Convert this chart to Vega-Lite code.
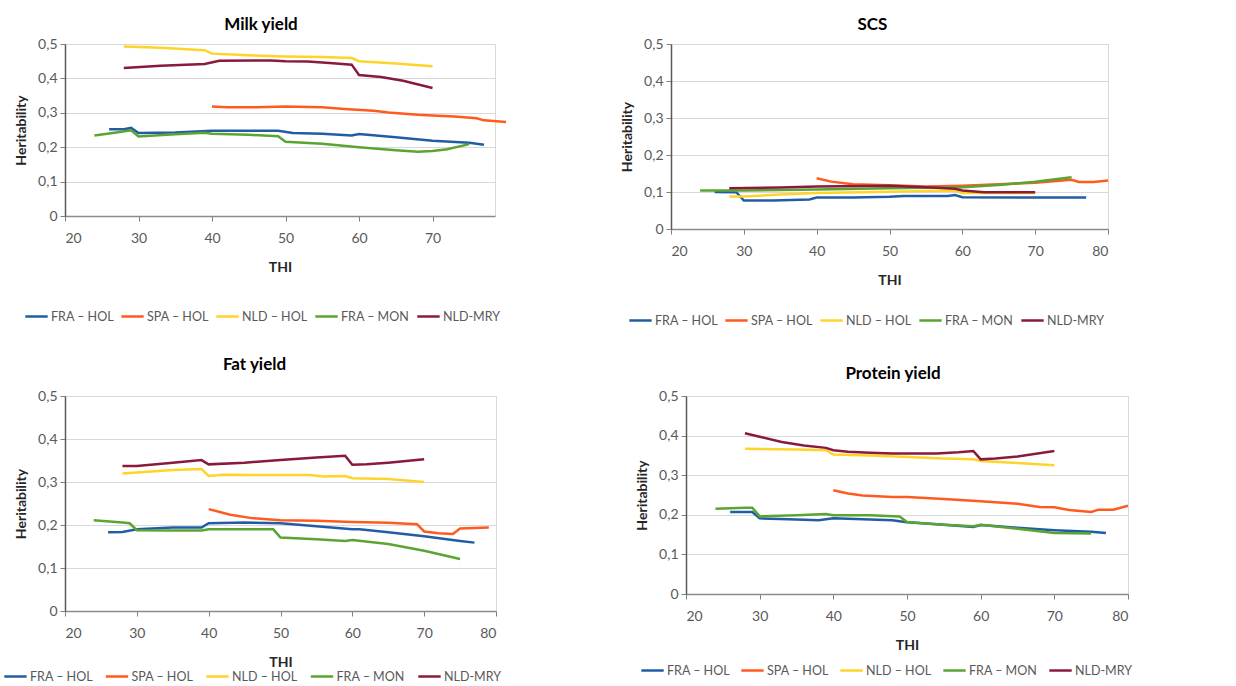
{
  "$schema": "https://vega.github.io/schema/vega-lite/v6.json",
  "background": "white",
  "padding": {"left": 2, "top": 15, "right": 5, "bottom": 0},
  "config": {
    "font": "Lato",
    "view": {"stroke": "#d9d9d9", "strokeWidth": 1},
    "axis": {
      "labelFont": "Lato", "labelFontSize": 14, "labelColor": "#595959",
      "titleFont": "Lato", "titleFontSize": 14, "titleFontWeight": "bold", "titleColor": "#262626",
      "gridColor": "#d9d9d9", "gridWidth": 1,
      "tickColor": "#7f7f7f", "tickSize": 5, "domainWidth": 1.5
    },
    "axisX": {"grid": false, "domainColor": "#8c8c8c", "labelPadding": 10, "titlePadding": 15},
    "axisY": {"domainColor": "#595959", "labelPadding": 3, "titlePadding": 9},
    "legend": {
      "orient": "none", "direction": "horizontal", "title": null,
      "symbolType": "stroke", "symbolSize": 500, "symbolStrokeWidth": 3,
      "labelFont": "Lato", "labelFontSize": 12.5, "labelColor": "#595959",
      "labelOffset": 2, "columnPadding": 2, "symbolOffset": 0
    },
    "title": {"font": "Lato", "fontSize": 17, "fontWeight": "bold", "color": "#000000", "frame": "group", "anchor": "middle"},
    "line": {"strokeWidth": 2.5, "clip": true}
  },
  "datasets": {
    "milk": [
      {"THI": 26, "series": "FRA – HOL", "h": 0.252}, {"THI": 28, "series": "FRA – HOL", "h": 0.252},
      {"THI": 29, "series": "FRA – HOL", "h": 0.256}, {"THI": 30, "series": "FRA – HOL", "h": 0.241},
      {"THI": 35, "series": "FRA – HOL", "h": 0.243}, {"THI": 40, "series": "FRA – HOL", "h": 0.248},
      {"THI": 49, "series": "FRA – HOL", "h": 0.248}, {"THI": 51, "series": "FRA – HOL", "h": 0.241},
      {"THI": 55, "series": "FRA – HOL", "h": 0.239}, {"THI": 59, "series": "FRA – HOL", "h": 0.234},
      {"THI": 60, "series": "FRA – HOL", "h": 0.238}, {"THI": 65, "series": "FRA – HOL", "h": 0.229},
      {"THI": 70, "series": "FRA – HOL", "h": 0.219}, {"THI": 75, "series": "FRA – HOL", "h": 0.213},
      {"THI": 77, "series": "FRA – HOL", "h": 0.207},
      {"THI": 40, "series": "SPA – HOL", "h": 0.318}, {"THI": 42, "series": "SPA – HOL", "h": 0.316},
      {"THI": 46, "series": "SPA – HOL", "h": 0.316}, {"THI": 50, "series": "SPA – HOL", "h": 0.318},
      {"THI": 55, "series": "SPA – HOL", "h": 0.316}, {"THI": 58, "series": "SPA – HOL", "h": 0.311},
      {"THI": 62, "series": "SPA – HOL", "h": 0.306}, {"THI": 64, "series": "SPA – HOL", "h": 0.301},
      {"THI": 68, "series": "SPA – HOL", "h": 0.294}, {"THI": 70, "series": "SPA – HOL", "h": 0.292},
      {"THI": 73, "series": "SPA – HOL", "h": 0.289}, {"THI": 76, "series": "SPA – HOL", "h": 0.284},
      {"THI": 77, "series": "SPA – HOL", "h": 0.278}, {"THI": 80, "series": "SPA – HOL", "h": 0.273},
      {"THI": 28, "series": "NLD – HOL", "h": 0.493}, {"THI": 33, "series": "NLD – HOL", "h": 0.489},
      {"THI": 39, "series": "NLD – HOL", "h": 0.482}, {"THI": 40, "series": "NLD – HOL", "h": 0.472},
      {"THI": 45, "series": "NLD – HOL", "h": 0.467}, {"THI": 50, "series": "NLD – HOL", "h": 0.464},
      {"THI": 55, "series": "NLD – HOL", "h": 0.462}, {"THI": 59, "series": "NLD – HOL", "h": 0.459},
      {"THI": 60, "series": "NLD – HOL", "h": 0.45}, {"THI": 65, "series": "NLD – HOL", "h": 0.443},
      {"THI": 70, "series": "NLD – HOL", "h": 0.435},
      {"THI": 24, "series": "FRA – MON", "h": 0.234}, {"THI": 27, "series": "FRA – MON", "h": 0.243},
      {"THI": 29, "series": "FRA – MON", "h": 0.249}, {"THI": 30, "series": "FRA – MON", "h": 0.231},
      {"THI": 35, "series": "FRA – MON", "h": 0.238}, {"THI": 39, "series": "FRA – MON", "h": 0.242},
      {"THI": 40, "series": "FRA – MON", "h": 0.239}, {"THI": 45, "series": "FRA – MON", "h": 0.236},
      {"THI": 49, "series": "FRA – MON", "h": 0.232}, {"THI": 50, "series": "FRA – MON", "h": 0.216},
      {"THI": 55, "series": "FRA – MON", "h": 0.21}, {"THI": 60, "series": "FRA – MON", "h": 0.2},
      {"THI": 65, "series": "FRA – MON", "h": 0.191}, {"THI": 68, "series": "FRA – MON", "h": 0.187},
      {"THI": 70, "series": "FRA – MON", "h": 0.189}, {"THI": 72, "series": "FRA – MON", "h": 0.194},
      {"THI": 75, "series": "FRA – MON", "h": 0.209},
      {"THI": 28, "series": "NLD-MRY", "h": 0.43}, {"THI": 33, "series": "NLD-MRY", "h": 0.437},
      {"THI": 39, "series": "NLD-MRY", "h": 0.442}, {"THI": 41, "series": "NLD-MRY", "h": 0.451},
      {"THI": 48, "series": "NLD-MRY", "h": 0.452}, {"THI": 50, "series": "NLD-MRY", "h": 0.45},
      {"THI": 53, "series": "NLD-MRY", "h": 0.449}, {"THI": 56, "series": "NLD-MRY", "h": 0.445},
      {"THI": 59, "series": "NLD-MRY", "h": 0.44}, {"THI": 60, "series": "NLD-MRY", "h": 0.41},
      {"THI": 63, "series": "NLD-MRY", "h": 0.404}, {"THI": 66, "series": "NLD-MRY", "h": 0.393},
      {"THI": 70, "series": "NLD-MRY", "h": 0.372}
    ],
    "scs": [
      {"THI": 26, "series": "FRA – HOL", "h": 0.1}, {"THI": 29, "series": "FRA – HOL", "h": 0.099},
      {"THI": 30, "series": "FRA – HOL", "h": 0.077}, {"THI": 34, "series": "FRA – HOL", "h": 0.077},
      {"THI": 39, "series": "FRA – HOL", "h": 0.08}, {"THI": 40, "series": "FRA – HOL", "h": 0.085},
      {"THI": 45, "series": "FRA – HOL", "h": 0.085}, {"THI": 50, "series": "FRA – HOL", "h": 0.087},
      {"THI": 52, "series": "FRA – HOL", "h": 0.089}, {"THI": 58, "series": "FRA – HOL", "h": 0.089},
      {"THI": 59, "series": "FRA – HOL", "h": 0.092}, {"THI": 60, "series": "FRA – HOL", "h": 0.086},
      {"THI": 70, "series": "FRA – HOL", "h": 0.085}, {"THI": 77, "series": "FRA – HOL", "h": 0.085},
      {"THI": 40, "series": "SPA – HOL", "h": 0.137}, {"THI": 42, "series": "SPA – HOL", "h": 0.128},
      {"THI": 45, "series": "SPA – HOL", "h": 0.121}, {"THI": 50, "series": "SPA – HOL", "h": 0.118},
      {"THI": 55, "series": "SPA – HOL", "h": 0.115}, {"THI": 60, "series": "SPA – HOL", "h": 0.117},
      {"THI": 65, "series": "SPA – HOL", "h": 0.121}, {"THI": 70, "series": "SPA – HOL", "h": 0.125},
      {"THI": 75, "series": "SPA – HOL", "h": 0.133}, {"THI": 76, "series": "SPA – HOL", "h": 0.127},
      {"THI": 78, "series": "SPA – HOL", "h": 0.127}, {"THI": 80, "series": "SPA – HOL", "h": 0.131},
      {"THI": 28, "series": "NLD – HOL", "h": 0.088}, {"THI": 30, "series": "NLD – HOL", "h": 0.088},
      {"THI": 35, "series": "NLD – HOL", "h": 0.093}, {"THI": 40, "series": "NLD – HOL", "h": 0.097},
      {"THI": 50, "series": "NLD – HOL", "h": 0.101}, {"THI": 59, "series": "NLD – HOL", "h": 0.104},
      {"THI": 60, "series": "NLD – HOL", "h": 0.097}, {"THI": 70, "series": "NLD – HOL", "h": 0.097},
      {"THI": 24, "series": "FRA – MON", "h": 0.104}, {"THI": 30, "series": "FRA – MON", "h": 0.104},
      {"THI": 40, "series": "FRA – MON", "h": 0.107}, {"THI": 50, "series": "FRA – MON", "h": 0.11},
      {"THI": 60, "series": "FRA – MON", "h": 0.113}, {"THI": 65, "series": "FRA – MON", "h": 0.119},
      {"THI": 70, "series": "FRA – MON", "h": 0.128}, {"THI": 75, "series": "FRA – MON", "h": 0.14},
      {"THI": 28, "series": "NLD-MRY", "h": 0.11}, {"THI": 35, "series": "NLD-MRY", "h": 0.112},
      {"THI": 40, "series": "NLD-MRY", "h": 0.115}, {"THI": 50, "series": "NLD-MRY", "h": 0.117},
      {"THI": 55, "series": "NLD-MRY", "h": 0.113}, {"THI": 59, "series": "NLD-MRY", "h": 0.109},
      {"THI": 60, "series": "NLD-MRY", "h": 0.104}, {"THI": 63, "series": "NLD-MRY", "h": 0.099},
      {"THI": 70, "series": "NLD-MRY", "h": 0.099}
    ],
    "fat": [
      {"THI": 26, "series": "FRA – HOL", "h": 0.183}, {"THI": 28, "series": "FRA – HOL", "h": 0.184},
      {"THI": 30, "series": "FRA – HOL", "h": 0.19}, {"THI": 35, "series": "FRA – HOL", "h": 0.194},
      {"THI": 39, "series": "FRA – HOL", "h": 0.194}, {"THI": 40, "series": "FRA – HOL", "h": 0.204},
      {"THI": 45, "series": "FRA – HOL", "h": 0.206}, {"THI": 50, "series": "FRA – HOL", "h": 0.204},
      {"THI": 55, "series": "FRA – HOL", "h": 0.197}, {"THI": 60, "series": "FRA – HOL", "h": 0.19},
      {"THI": 61, "series": "FRA – HOL", "h": 0.19}, {"THI": 65, "series": "FRA – HOL", "h": 0.183},
      {"THI": 70, "series": "FRA – HOL", "h": 0.174}, {"THI": 75, "series": "FRA – HOL", "h": 0.163},
      {"THI": 77, "series": "FRA – HOL", "h": 0.159},
      {"THI": 40, "series": "SPA – HOL", "h": 0.237}, {"THI": 43, "series": "SPA – HOL", "h": 0.224},
      {"THI": 46, "series": "SPA – HOL", "h": 0.216}, {"THI": 50, "series": "SPA – HOL", "h": 0.211},
      {"THI": 55, "series": "SPA – HOL", "h": 0.21}, {"THI": 60, "series": "SPA – HOL", "h": 0.207},
      {"THI": 65, "series": "SPA – HOL", "h": 0.205}, {"THI": 69, "series": "SPA – HOL", "h": 0.202},
      {"THI": 70, "series": "SPA – HOL", "h": 0.185}, {"THI": 72, "series": "SPA – HOL", "h": 0.181},
      {"THI": 74, "series": "SPA – HOL", "h": 0.179}, {"THI": 75, "series": "SPA – HOL", "h": 0.192},
      {"THI": 79, "series": "SPA – HOL", "h": 0.194},
      {"THI": 28, "series": "NLD – HOL", "h": 0.32}, {"THI": 35, "series": "NLD – HOL", "h": 0.328},
      {"THI": 39, "series": "NLD – HOL", "h": 0.33}, {"THI": 40, "series": "NLD – HOL", "h": 0.314},
      {"THI": 42, "series": "NLD – HOL", "h": 0.317}, {"THI": 50, "series": "NLD – HOL", "h": 0.316},
      {"THI": 54, "series": "NLD – HOL", "h": 0.316}, {"THI": 56, "series": "NLD – HOL", "h": 0.313},
      {"THI": 59, "series": "NLD – HOL", "h": 0.314}, {"THI": 60, "series": "NLD – HOL", "h": 0.309},
      {"THI": 65, "series": "NLD – HOL", "h": 0.307}, {"THI": 70, "series": "NLD – HOL", "h": 0.3},
      {"THI": 24, "series": "FRA – MON", "h": 0.211}, {"THI": 28, "series": "FRA – MON", "h": 0.206},
      {"THI": 29, "series": "FRA – MON", "h": 0.204}, {"THI": 30, "series": "FRA – MON", "h": 0.188},
      {"THI": 35, "series": "FRA – MON", "h": 0.187}, {"THI": 39, "series": "FRA – MON", "h": 0.187},
      {"THI": 40, "series": "FRA – MON", "h": 0.19}, {"THI": 49, "series": "FRA – MON", "h": 0.19},
      {"THI": 50, "series": "FRA – MON", "h": 0.171}, {"THI": 55, "series": "FRA – MON", "h": 0.167},
      {"THI": 59, "series": "FRA – MON", "h": 0.163}, {"THI": 60, "series": "FRA – MON", "h": 0.165},
      {"THI": 65, "series": "FRA – MON", "h": 0.156}, {"THI": 70, "series": "FRA – MON", "h": 0.14},
      {"THI": 75, "series": "FRA – MON", "h": 0.121},
      {"THI": 28, "series": "NLD-MRY", "h": 0.337}, {"THI": 30, "series": "NLD-MRY", "h": 0.337},
      {"THI": 35, "series": "NLD-MRY", "h": 0.345}, {"THI": 39, "series": "NLD-MRY", "h": 0.351},
      {"THI": 40, "series": "NLD-MRY", "h": 0.341}, {"THI": 45, "series": "NLD-MRY", "h": 0.345},
      {"THI": 50, "series": "NLD-MRY", "h": 0.351}, {"THI": 55, "series": "NLD-MRY", "h": 0.357},
      {"THI": 59, "series": "NLD-MRY", "h": 0.361}, {"THI": 60, "series": "NLD-MRY", "h": 0.34},
      {"THI": 62, "series": "NLD-MRY", "h": 0.341}, {"THI": 65, "series": "NLD-MRY", "h": 0.345},
      {"THI": 70, "series": "NLD-MRY", "h": 0.353}
    ],
    "protein": [
      {"THI": 26, "series": "FRA – HOL", "h": 0.207}, {"THI": 29, "series": "FRA – HOL", "h": 0.207},
      {"THI": 30, "series": "FRA – HOL", "h": 0.191}, {"THI": 35, "series": "FRA – HOL", "h": 0.188},
      {"THI": 38, "series": "FRA – HOL", "h": 0.186}, {"THI": 40, "series": "FRA – HOL", "h": 0.191},
      {"THI": 45, "series": "FRA – HOL", "h": 0.188}, {"THI": 48, "series": "FRA – HOL", "h": 0.186},
      {"THI": 50, "series": "FRA – HOL", "h": 0.181}, {"THI": 55, "series": "FRA – HOL", "h": 0.175},
      {"THI": 59, "series": "FRA – HOL", "h": 0.169}, {"THI": 60, "series": "FRA – HOL", "h": 0.174},
      {"THI": 65, "series": "FRA – HOL", "h": 0.167}, {"THI": 70, "series": "FRA – HOL", "h": 0.161},
      {"THI": 75, "series": "FRA – HOL", "h": 0.157}, {"THI": 77, "series": "FRA – HOL", "h": 0.154},
      {"THI": 40, "series": "SPA – HOL", "h": 0.262}, {"THI": 42, "series": "SPA – HOL", "h": 0.254},
      {"THI": 44, "series": "SPA – HOL", "h": 0.249}, {"THI": 48, "series": "SPA – HOL", "h": 0.245},
      {"THI": 50, "series": "SPA – HOL", "h": 0.245}, {"THI": 55, "series": "SPA – HOL", "h": 0.24},
      {"THI": 60, "series": "SPA – HOL", "h": 0.234}, {"THI": 65, "series": "SPA – HOL", "h": 0.228},
      {"THI": 68, "series": "SPA – HOL", "h": 0.22}, {"THI": 70, "series": "SPA – HOL", "h": 0.219},
      {"THI": 72, "series": "SPA – HOL", "h": 0.212}, {"THI": 75, "series": "SPA – HOL", "h": 0.207},
      {"THI": 76, "series": "SPA – HOL", "h": 0.213}, {"THI": 78, "series": "SPA – HOL", "h": 0.213},
      {"THI": 80, "series": "SPA – HOL", "h": 0.223},
      {"THI": 28, "series": "NLD – HOL", "h": 0.367}, {"THI": 35, "series": "NLD – HOL", "h": 0.365},
      {"THI": 39, "series": "NLD – HOL", "h": 0.363}, {"THI": 40, "series": "NLD – HOL", "h": 0.352},
      {"THI": 45, "series": "NLD – HOL", "h": 0.35}, {"THI": 50, "series": "NLD – HOL", "h": 0.346},
      {"THI": 55, "series": "NLD – HOL", "h": 0.342}, {"THI": 59, "series": "NLD – HOL", "h": 0.34},
      {"THI": 60, "series": "NLD – HOL", "h": 0.336}, {"THI": 65, "series": "NLD – HOL", "h": 0.331},
      {"THI": 70, "series": "NLD – HOL", "h": 0.325},
      {"THI": 24, "series": "FRA – MON", "h": 0.215}, {"THI": 28, "series": "FRA – MON", "h": 0.218},
      {"THI": 29, "series": "FRA – MON", "h": 0.218}, {"THI": 30, "series": "FRA – MON", "h": 0.196},
      {"THI": 35, "series": "FRA – MON", "h": 0.199}, {"THI": 39, "series": "FRA – MON", "h": 0.202},
      {"THI": 40, "series": "FRA – MON", "h": 0.199}, {"THI": 45, "series": "FRA – MON", "h": 0.199},
      {"THI": 49, "series": "FRA – MON", "h": 0.196}, {"THI": 50, "series": "FRA – MON", "h": 0.182},
      {"THI": 55, "series": "FRA – MON", "h": 0.175}, {"THI": 59, "series": "FRA – MON", "h": 0.171},
      {"THI": 60, "series": "FRA – MON", "h": 0.175}, {"THI": 65, "series": "FRA – MON", "h": 0.165},
      {"THI": 70, "series": "FRA – MON", "h": 0.154}, {"THI": 75, "series": "FRA – MON", "h": 0.153},
      {"THI": 28, "series": "NLD-MRY", "h": 0.406}, {"THI": 30, "series": "NLD-MRY", "h": 0.397},
      {"THI": 33, "series": "NLD-MRY", "h": 0.384}, {"THI": 36, "series": "NLD-MRY", "h": 0.375},
      {"THI": 39, "series": "NLD-MRY", "h": 0.369}, {"THI": 40, "series": "NLD-MRY", "h": 0.363},
      {"THI": 42, "series": "NLD-MRY", "h": 0.359}, {"THI": 45, "series": "NLD-MRY", "h": 0.357},
      {"THI": 48, "series": "NLD-MRY", "h": 0.355}, {"THI": 54, "series": "NLD-MRY", "h": 0.355},
      {"THI": 57, "series": "NLD-MRY", "h": 0.358}, {"THI": 59, "series": "NLD-MRY", "h": 0.361},
      {"THI": 60, "series": "NLD-MRY", "h": 0.34}, {"THI": 62, "series": "NLD-MRY", "h": 0.342},
      {"THI": 65, "series": "NLD-MRY", "h": 0.347}, {"THI": 70, "series": "NLD-MRY", "h": 0.361}
    ]
  },
  "resolve": {"legend": {"color": "independent"}},
  "bounds": "flush",
  "spacing": 352,
  "vconcat": [
    {
      "bounds": "flush",
      "spacing": 176,
      "resolve": {"legend": {"color": "independent"}},
      "hconcat": [
        {
          "title": {"text": "Milk yield", "dx": -19, "offset": 3},
          "width": 430, "height": 172,
          "data": {"name": "milk"},
          "mark": {"type": "line"},
          "encoding": {
            "x": {"field": "THI", "type": "quantitative", "scale": {"domain": [20, 78.5], "nice": false, "zero": false},
                  "axis": {"values": [20, 30, 40, 50, 60, 70], "title": "THI"}},
            "y": {"field": "h", "type": "quantitative", "scale": {"domain": [0, 0.5]},
                  "axis": {"values": [0, 0.1, 0.2, 0.3, 0.4, 0.5], "title": "Heritability",
                           "labelExpr": "replace(format(datum.value, '.1~f'), '.', ',')"}},
            "color": {"field": "series", "type": "nominal",
                      "scale": {"domain": ["FRA – HOL", "SPA – HOL", "NLD – HOL", "FRA – MON", "NLD-MRY"],
                                "range": ["#215da6", "#ff5a1f", "#ffd42a", "#5aa532", "#8a1a3c"]},
                      "legend": {"legendX": -41, "legendY": 260}}
          }
        },
        {
          "title": {"text": "SCS", "dx": -17, "offset": 3},
          "width": 437, "height": 185,
          "data": {"name": "scs"},
          "mark": {"type": "line"},
          "encoding": {
            "x": {"field": "THI", "type": "quantitative", "scale": {"domain": [20, 80], "nice": false, "zero": false},
                  "axis": {"values": [20, 30, 40, 50, 60, 70, 80], "title": "THI"}},
            "y": {"field": "h", "type": "quantitative", "scale": {"domain": [0, 0.5]},
                  "axis": {"values": [0, 0.1, 0.2, 0.3, 0.4, 0.5], "title": "Heritability",
                           "labelExpr": "replace(format(datum.value, '.1~f'), '.', ',')"}},
            "color": {"field": "series", "type": "nominal",
                      "scale": {"domain": ["FRA – HOL", "SPA – HOL", "NLD – HOL", "FRA – MON", "NLD-MRY"],
                                "range": ["#215da6", "#ff5a1f", "#ffd42a", "#5aa532", "#8a1a3c"]},
                      "legend": {"legendX": -43, "legendY": 264}}
          }
        }
      ]
    },
    {
      "bounds": "flush",
      "spacing": 190,
      "resolve": {"legend": {"color": "independent"}},
      "hconcat": [
        {
          "title": {"text": "Fat yield", "dx": -26, "offset": 15},
          "width": 431, "height": 215,
          "data": {"name": "fat"},
          "mark": {"type": "line"},
          "encoding": {
            "x": {"field": "THI", "type": "quantitative", "scale": {"domain": [20, 80], "nice": false, "zero": false},
                  "axis": {"values": [20, 30, 40, 50, 60, 70, 80], "title": "THI"}},
            "y": {"field": "h", "type": "quantitative", "scale": {"domain": [0, 0.5]},
                  "axis": {"values": [0, 0.1, 0.2, 0.3, 0.4, 0.5], "title": "Heritability",
                           "labelExpr": "replace(format(datum.value, '.1~f'), '.', ',')"}},
            "color": {"field": "series", "type": "nominal",
                      "scale": {"domain": ["FRA – HOL", "SPA – HOL", "NLD – HOL", "FRA – MON", "NLD-MRY"],
                                "range": ["#215da6", "#ff5a1f", "#ffd42a", "#5aa532", "#8a1a3c"]},
                      "legend": {"legendX": -62, "legendY": 268, "columnPadding": 7.5}}
          }
        },
        {
          "title": {"text": "Protein yield", "dx": -14, "offset": 6},
          "width": 442, "height": 198,
          "data": {"name": "protein"},
          "mark": {"type": "line"},
          "encoding": {
            "x": {"field": "THI", "type": "quantitative", "scale": {"domain": [20, 80], "nice": false, "zero": false},
                  "axis": {"values": [20, 30, 40, 50, 60, 70, 80], "title": "THI"}},
            "y": {"field": "h", "type": "quantitative", "scale": {"domain": [0, 0.5]},
                  "axis": {"values": [0, 0.1, 0.2, 0.3, 0.4, 0.5], "title": "Heritability",
                           "labelExpr": "replace(format(datum.value, '.1~f'), '.', ',')"}},
            "color": {"field": "series", "type": "nominal",
                      "scale": {"domain": ["FRA – HOL", "SPA – HOL", "NLD – HOL", "FRA – MON", "NLD-MRY"],
                                "range": ["#215da6", "#ff5a1f", "#ffd42a", "#5aa532", "#8a1a3c"]},
                      "legend": {"legendX": -46, "legendY": 262, "columnPadding": 6}}
          }
        }
      ]
    }
  ]
}
